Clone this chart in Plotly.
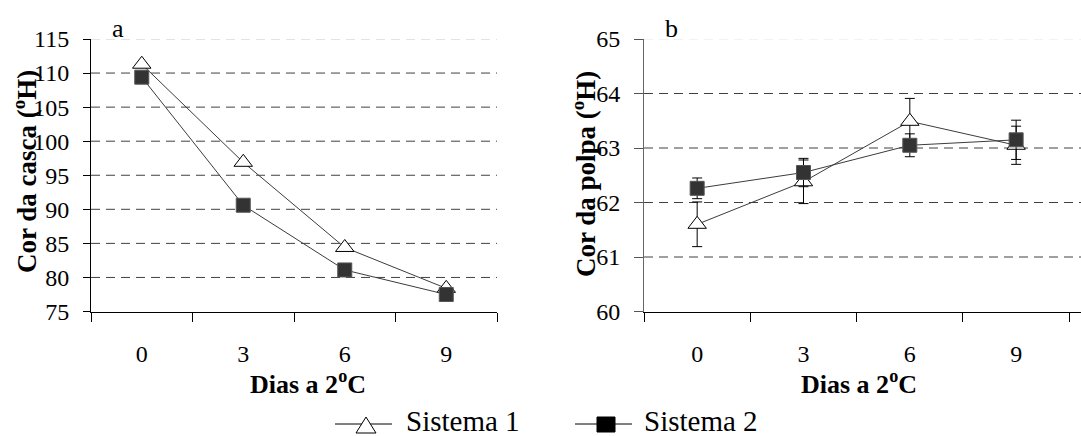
import plotly.graph_objects as go

# Storage days at 2 °C
dias = ["0", "3", "6", "9"]

# Peel colour (hue angle, °H)
casca_s1 = [111.3, 96.9, 84.4, 78.4]
casca_s2 = [109.4, 90.6, 81.1, 77.5]

# Pulp colour (hue angle, °H) with standard errors
polpa_s1 = [61.6, 62.38, 63.49, 63.05]
polpa_s2 = [62.26, 62.55, 63.05, 63.15]
polpa_s1_err = [0.41, 0.4, 0.42, 0.35]
polpa_s2_err = [0.19, 0.26, 0.21, 0.36]

casca_ticks = [75, 80, 85, 90, 95, 100, 105, 110, 115]
polpa_ticks = [60, 61, 62, 63, 64, 65]

series_names = ["Sistema 1", "Sistema 2"]

W, H = 1081, 436
SERIF = "Liberation Serif"
LINE_COL = "#3c3c3c"

tri = dict(symbol="triangle-up", size=16, color="white",
           line=dict(color="black", width=1))
sq = dict(symbol="square", size=14, color="#333333",
          line=dict(color="#555555", width=1))

fig = go.Figure()

# panel a
fig.add_trace(go.Scatter(x=dias, y=casca_s1, name=series_names[0], mode="lines+markers",
                         line=dict(color=LINE_COL, width=1), marker=tri,
                         xaxis="x", yaxis="y", showlegend=False))
fig.add_trace(go.Scatter(x=dias, y=casca_s2, name=series_names[1], mode="lines+markers",
                         line=dict(color=LINE_COL, width=1), marker=sq,
                         xaxis="x", yaxis="y", showlegend=False))

# panel b
err_style = dict(type="data", color="black", thickness=1, width=5)
fig.add_trace(go.Scatter(x=dias, y=polpa_s1, name=series_names[0], mode="lines+markers",
                         line=dict(color=LINE_COL, width=1), marker=tri,
                         error_y=dict(array=polpa_s1_err, **err_style),
                         xaxis="x2", yaxis="y2", showlegend=False))
fig.add_trace(go.Scatter(x=dias, y=polpa_s2, name=series_names[1], mode="lines+markers",
                         line=dict(color=LINE_COL, width=1), marker=sq,
                         error_y=dict(array=polpa_s2_err, **err_style),
                         xaxis="x2", yaxis="y2", showlegend=False))


def px_x(p):
    return p / W


def px_y(p):
    return 1 - p / H


y_dom = [px_y(311.5), px_y(39)]
xa_dom = [px_x(91), px_x(497)]
xb_dom = [px_x(644), 1.0]

tickfont = dict(family=SERIF, size=24, color="black")

common_x = dict(type="category", tickson="boundaries", ticks="outside", ticklen=9,
                tickcolor="black", showline=True, linewidth=1, showgrid=False,
                zeroline=False, tickfont=tickfont, ticklabelstandoff=21,
                automargin=False)

fig.update_layout(
    xaxis=dict(domain=xa_dom, anchor="y", range=[-0.5, 3.5],
               linecolor="black", **common_x),
    xaxis2=dict(domain=xb_dom, anchor="y2", range=[-0.5, 3.61],
                linecolor="black", **common_x),
    yaxis=dict(domain=y_dom, anchor="x", range=[75, 115], tickvals=casca_ticks,
               ticks="outside", ticklen=7, tickcolor="black", showline=True,
               linecolor="black", linewidth=1, showgrid=False, zeroline=False,
               tickfont=tickfont, ticklabelstandoff=9, automargin=False),
    yaxis2=dict(domain=y_dom, anchor="x2", range=[60, 65], tickvals=polpa_ticks,
                ticks="outside", ticklen=9, tickcolor="#555555", showline=True,
                linecolor="#666666", linewidth=1, showgrid=False, zeroline=False,
                tickfont=tickfont, ticklabelstandoff=9, automargin=False),
    # inner half of the crossing tick marks on panel b
    yaxis3=dict(domain=y_dom, anchor="x2", overlaying="y2", range=[60, 65],
                tickvals=polpa_ticks, ticks="inside", ticklen=9, tickcolor="#555555",
                showticklabels=False, showline=False, showgrid=False, zeroline=False,
                automargin=False),
)

# dashed horizontal gridlines (top line drawn lighter)
for ticks, xref, yref, top_col in ((casca_ticks, "x domain", "y", "#c8c8c8"),
                                   (polpa_ticks, "x2 domain", "y2", "#e6e6e6")):
    for v in ticks[1:]:
        col = top_col if v == ticks[-1] else "#404040"
        fig.add_shape(type="line", xref=xref, yref=yref, x0=0, x1=1, y0=v, y1=v,
                      line=dict(color=col, width=1, dash="9px,6px"), layer="below")

x_title_font = dict(family=SERIF, size=26, color="black")
y_title_font = dict(family=SERIF, size=27, color="black")
ann = [
    dict(text="<b>Dias a 2<sup>o</sup>C</b>", x=px_x(308), y=px_y(382), font=x_title_font),
    dict(text="<b>Dias a 2<sup>o</sup>C</b>", x=px_x(859), y=px_y(382), font=x_title_font),
    dict(text="<b>Cor da casca (<sup>o</sup>H)</b>", x=px_x(25), y=px_y(172),
         textangle=-90, font=y_title_font),
    dict(text="<b>Cor da polpa (<sup>o</sup>H)</b>", x=px_x(584), y=px_y(174),
         textangle=-90, font=y_title_font),
]
for a in ann:
    fig.add_annotation(xref="paper", yref="paper", showarrow=False,
                       xanchor="center", yanchor="middle", **a)

for lbl, xp in (("a", 118), ("b", 671)):
    fig.add_annotation(text=lbl, xref="paper", yref="paper", x=px_x(xp), y=px_y(29),
                       showarrow=False, xanchor="center", yanchor="middle",
                       font=dict(family=SERIF, size=26, color="black"))

# legend row at the bottom: line sample with marker, then series name
LEG_Y = 424


def legend_line(x0, x1):
    fig.add_shape(type="line", xref="paper", yref="paper",
                  x0=px_x(x0), x1=px_x(x1), y0=px_y(LEG_Y), y1=px_y(LEG_Y),
                  line=dict(color="black", width=1))


legend_line(335, 392)
cx = 366
fig.add_shape(type="path", xref="paper", yref="paper",
              path=(f"M{px_x(cx - 10)},{px_y(LEG_Y + 9)} L{px_x(cx + 10)},{px_y(LEG_Y + 9)} "
                    f"L{px_x(cx)},{px_y(LEG_Y - 7)} Z"),
              fillcolor="white", line=dict(color="black", width=1))
legend_line(575, 632)
cx = 606
fig.add_shape(type="rect", xref="paper", yref="paper",
              x0=px_x(cx - 9), x1=px_x(cx + 9), y0=px_y(LEG_Y + 8), y1=px_y(LEG_Y - 7),
              fillcolor="black", line=dict(color="black", width=1))

for name, xl in zip(series_names, (404, 642)):
    fig.add_annotation(text=name, xref="paper", yref="paper", x=px_x(xl), y=px_y(421),
                       showarrow=False, xanchor="left", yanchor="middle",
                       font=dict(family=SERIF, size=29, color="black"))

fig.update_layout(
    width=W, height=H,
    margin=dict(l=0, r=0, t=0, b=0),
    paper_bgcolor="white", plot_bgcolor="white",
    font=dict(family=SERIF, color="black"),
    showlegend=False,
)

fig.write_html("out.html")
